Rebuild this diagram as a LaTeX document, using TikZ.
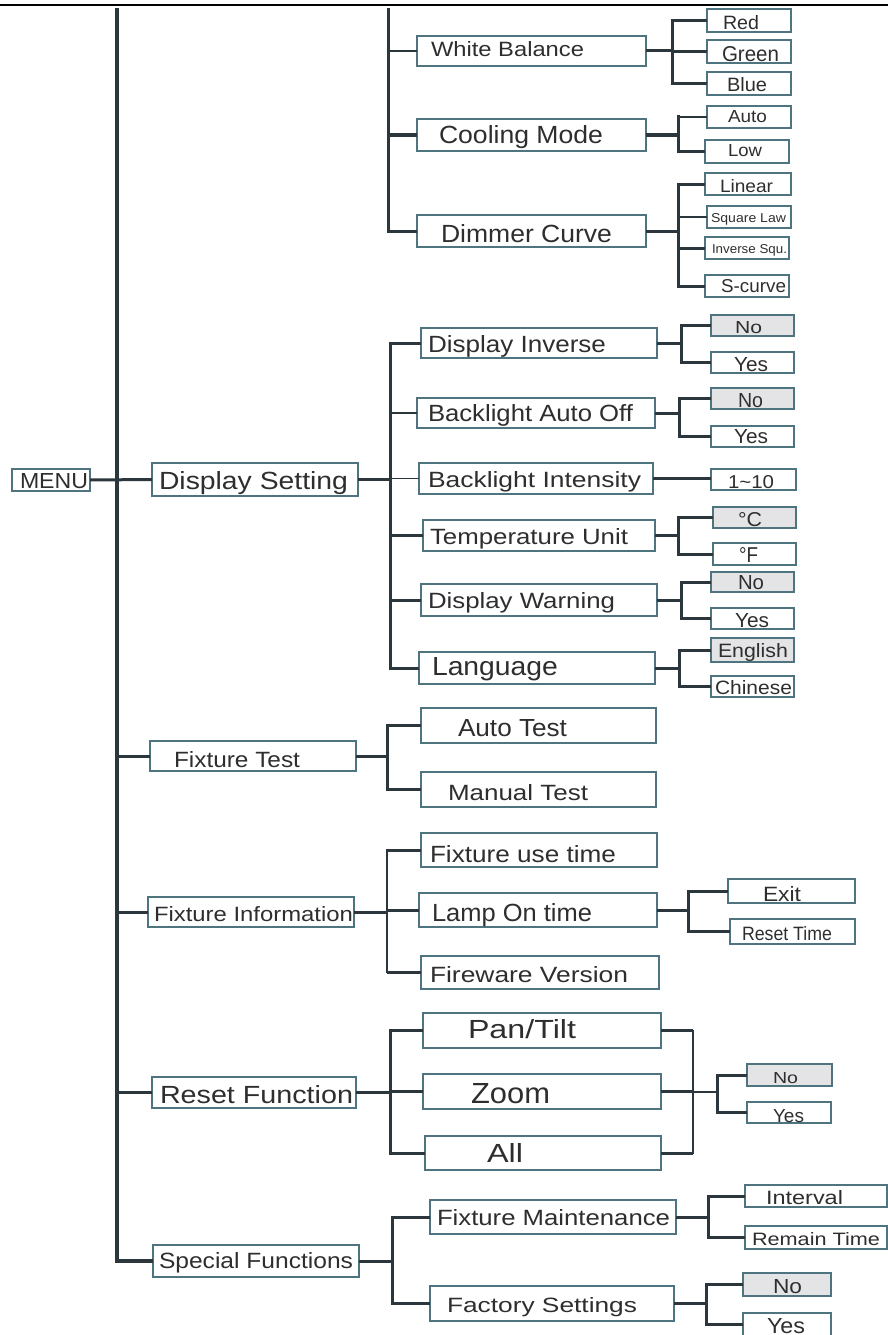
\documentclass[tikz,border=0pt]{standalone}
\usepackage{fontspec}
\setmainfont{Liberation Sans}
\usepackage{graphicx}
\definecolor{ln}{HTML}{2B373C}
\definecolor{bd}{HTML}{4E7480}
\definecolor{tc}{HTML}{2E2E2E}
\definecolor{sh}{HTML}{E4E4E6}
\newcommand\bx[6][]{\node[box,#1,minimum width={#5-#3},minimum height={#6-#4}] (#2) at ({(#3+#5)/2},{(#4+#6)/2}) {};}
\newcommand\tx[6]{\node[txt] (#1) at (#2,#3) {\resizebox{#4pt}{#5pt}{#6}};}
\begin{document}
\begin{tikzpicture}[x=1pt,y=-1pt,
  box/.style={draw=bd,line width=1.3pt,inner sep=0pt,outer sep=0pt,rectangle},
  shd/.style={fill=sh},
  txt/.style={anchor=base west,inner sep=0pt,outer sep=0pt,text=tc},
  thk/.style={draw=ln,line width=3pt},
  thn/.style={draw=ln,line width=1.6pt},
  vthk/.style={draw=ln,line width=3pt,line cap=rect},
  vthn/.style={draw=ln,line width=1.6pt,line cap=rect},
  mainl/.style={draw=ln,line width=3.5pt}]
\useasboundingbox (0,0) rectangle (888,1335);
\clip (0,0) rectangle (888,1335);
% top rule
\coordinate (tl) at (0,5);
\coordinate (tr) at (888,5);
\draw[line width=2.8pt,black] (tl) -- (tr);

% ---------- boxes ----------
\bx{menu}{12}{469}{90}{491}
\bx{ds}{152}{463}{358}{496}
\bx{wb}{417}{36}{646}{66}
\bx{cm}{417}{119}{646}{151}
\bx{dc}{417}{215}{646}{247}
\bx{red}{707}{9}{791}{32}
\bx{green}{707}{40}{791}{63}
\bx{blue}{707}{72}{791}{95}
\bx{auto}{707}{106}{791}{128}
\bx{low}{705}{140}{789}{163}
\bx{lin}{705}{173}{791}{195}
\bx{sq}{707}{206}{791}{228}
\bx{isq}{705}{237}{789}{259}
\bx{sc}{705}{275}{789}{297}
\bx{di}{421}{328}{657}{358}
\bx{bao}{417}{398}{655}{428}
\bx{bi}{419}{463}{653}{494}
\bx{tu}{423}{520}{655}{551}
\bx{dw}{421}{584}{657}{616}
\bx{lang}{419}{652}{655}{684}
\bx[shd]{dino}{711}{315}{794}{336}
\bx{diyes}{711}{352}{794}{373}
\bx[shd]{baono}{711}{388}{794}{409}
\bx{baoyes}{711}{426}{794}{447}
\bx{bival}{711}{469}{796}{490}
\bx[shd]{tuc}{713}{507}{796}{528}
\bx{tuf}{713}{543}{796}{565}
\bx[shd]{dwno}{711}{572}{794}{592}
\bx{dwyes}{711}{608}{794}{629}
\bx[shd]{eng}{711}{638}{794}{662}
\bx{chn}{711}{676}{794}{697}
\bx{ft}{150}{741}{356}{771}
\bx{at}{421}{708}{656}{743}
\bx{mt}{421}{772}{656}{807}
\bx{fi}{148}{897}{354}{927}
\bx{fut}{421}{833}{657}{867}
\bx{lot}{419}{893}{657}{927}
\bx{fv}{421}{956}{659}{989}
\bx{exit}{728}{879}{855}{903}
\bx{rt}{730}{919}{855}{944}
\bx{rf}{152}{1077}{356}{1108}
\bx{pt}{423}{1013}{661}{1048}
\bx{zm}{423}{1074}{661}{1109}
\bx{all}{425}{1136}{661}{1170}
\bx[shd]{rno}{747}{1064}{832}{1086}
\bx{ryes}{747}{1102}{831}{1123}
\bx{sf}{153}{1245}{359}{1277}
\bx{fm}{430}{1200}{676}{1234}
\bx{fs}{430}{1286}{674}{1321}
\bx{intv}{745}{1185}{887}{1207}
\bx{rmt}{745}{1226}{887}{1249}
\bx[shd]{fno}{743}{1273}{831}{1296}
\bx{fyes}{743}{1313}{831}{1336}

% ---------- texts ----------
\tx{menu-t}{20}{488}{68}{15}{MENU}
\tx{ds-t}{159}{489}{189}{18}{Display Setting}
\tx{wb-t}{431}{57}{153}{15}{White Balance}
\tx{cm-t}{439}{144}{164}{18}{Cooling Mode}
\tx{dc-t}{441}{242}{171}{18}{Dimmer Curve}
\tx{red-t}{723}{30}{36}{14}{Red}
\tx{green-t}{722}{62}{57}{15}{Green}
\tx{blue-t}{727}{92}{40}{14}{Blue}
\tx{auto-t}{728}{123}{39}{12}{Auto}
\tx{low-t}{728}{157}{34}{12}{Low}
\tx{lin-t}{720}{192}{53}{13}{Linear}
\tx{sq-t}{711}{222}{75}{9}{Square Law}
\tx{isq-t}{712}{253}{75}{9}{Inverse Squ.}
\tx{sc-t}{721}{292}{65}{13}{S-curve}
\tx{di-t}{428}{352}{178}{17}{Display Inverse}
\tx{bao-t}{428}{421}{205}{17}{Backlight Auto Off}
\tx{bi-t}{428}{487}{213}{16}{Backlight Intensity}
\tx{tu-t}{430}{544}{198}{16}{Temperature Unit}
\tx{dw-t}{428}{608}{187}{16}{Display Warning}
\tx{lang-t}{432}{675}{126}{18}{Language}
\tx{dino-t}{735}{333}{27}{12}{No}
\tx{diyes-t}{734}{371}{34}{14}{Yes}
\tx{baono-t}{738}{407}{25}{14}{No}
\tx{baoyes-t}{734}{443}{34}{14}{Yes}
\tx{bival-t}{728}{488}{46}{13}{1\char"007E 10}
\tx{tuc-t}{738}{526}{24}{14}{°C}
\tx{tuf-t}{739}{562}{19}{15}{°F}
\tx{dwno-t}{738}{589}{26}{14}{No}
\tx{dwyes-t}{735}{627}{34}{14}{Yes}
\tx{eng-t}{718}{657}{70}{14}{English}
\tx{chn-t}{715}{694}{77}{14}{Chinese}
\tx{ft-t}{174}{767}{126}{16}{Fixture Test}
\tx{at-t}{458}{736}{109}{17}{Auto Test}
\tx{mt-t}{448}{800}{140}{16}{Manual Test}
\tx{fi-t}{154}{921}{199}{15}{Fixture Information}
\tx{fut-t}{430}{862}{186}{17}{Fixture use time}
\tx{lot-t}{432}{921}{160}{18}{Lamp On time}
\tx{fv-t}{430}{982}{198}{16}{Fireware Version}
\tx{exit-t}{763}{901}{38}{15}{Exit}
\tx{rt-t}{742}{940}{90}{14}{Reset Time}
\tx{rf-t}{160}{1103}{193}{18}{Reset Function}
\tx{pt-t}{468}{1038}{108}{19}{Pan/Tilt}
\tx{zm-t}{471}{1103}{79}{20}{Zoom}
\tx{all-t}{487}{1162}{36}{19}{All}
\tx{rno-t}{773}{1083}{25}{11}{No}
\tx{ryes-t}{773}{1122}{31}{13}{Yes}
\tx{sf-t}{159}{1268}{194}{16}{Special Functions}
\tx{fm-t}{437}{1225}{233}{16}{Fixture Maintenance}
\tx{fs-t}{447}{1312}{190}{15}{Factory Settings}
\tx{intv-t}{766}{1204}{77}{14}{Interval}
\tx{rmt-t}{752}{1245}{128}{13}{Remain Time}
\tx{fno-t}{773}{1293}{29}{14}{No}
\tx{fyes-t}{767}{1333}{38}{15}{Yes}

% ---------- junction coordinates ----------
\coordinate (m0) at (117,8.5);
\coordinate (s0) at (388,8.5);
\coordinate (jwb) at (672,0);
\coordinate (jcm) at (678,0);
\coordinate (jdc) at (678,0);
\coordinate (jds) at (390,0);
\coordinate (jdi) at (681,0);
\coordinate (jbao) at (679,0);
\coordinate (jtu) at (678,0);
\coordinate (jdw) at (681,0);
\coordinate (jlang) at (679,0);
\coordinate (jft) at (387,0);
\coordinate (jfi) at (387,0);
\coordinate (jlot) at (688,0);
\coordinate (jrf) at (390,0);
\coordinate (jr) at (693,1092);
\coordinate (jrk) at (717,1092);
\coordinate (jsf) at (392,0);
\coordinate (jfm) at (708,0);
\coordinate (jfs) at (706,0);

% ---------- main trunk ----------
\draw[mainl] (m0) |- (sf.west);
\draw[thk] (menu.east) -- (ds.west);
\draw[thk] (m0 |- ft.west) -- (ft.west);
\draw[thk] (m0 |- fi.west) -- (fi.west);
\draw[thk] (m0 |- rf.west) -- (rf.west);

% ---------- upper trunk ----------
\draw[thk] (s0) |- (dc.west);
\draw[thn] (s0 |- wb.west) -- (wb.west);
\draw[thk] (s0 |- cm.west) -- (cm.west);

% white balance
\draw[thk] (wb.east) -- (jwb |- wb.east);
\draw[vthk] (jwb |- red.west) -- (jwb |- blue.west);
\draw[thk] (jwb |- red.west) -- (red.west);
\draw[thk] (jwb |- green.west) -- (green.west);
\draw[thk] (jwb |- blue.west) -- (blue.west);
% cooling mode
\draw[thk] (cm.east) -- (jcm |- cm.east);
\draw[vthk] (jcm |- auto.west) -- (jcm |- low.west);
\draw[thn] (jcm |- auto.west) -- (auto.west);
\draw[thk] (jcm |- low.west) -- (low.west);
% dimmer curve
\draw[thk] (dc.east) -- (jdc |- dc.east);
\draw[vthk] (jdc |- lin.west) -- (jdc |- sc.west);
\draw[thk] (jdc |- lin.west) -- (lin.west);
\draw[thn] (jdc |- sq.west) -- (sq.west);
\draw[thk] (jdc |- isq.west) -- (isq.west);
\draw[thk] (jdc |- sc.west) -- (sc.west);

% ---------- display setting ----------
\draw[thk] (ds.east) -- (jds |- ds.east);
\draw[vthk] (jds |- di.west) -- (jds |- lang.west);
\draw[thk] (jds |- di.west) -- (di.west);
\draw[thn] (jds |- bao.west) -- (bao.west);
\draw[thn] (jds |- bi.west) -- (bi.west);
\draw[thk] (jds |- tu.west) -- (tu.west);
\draw[thk] (jds |- dw.west) -- (dw.west);
\draw[thk] (jds |- lang.west) -- (lang.west);

\draw[thk] (di.east) -- (jdi |- di.east);
\draw[vthk] (jdi |- dino.west) -- (jdi |- diyes.west);
\draw[thk] (jdi |- dino.west) -- (dino.west);
\draw[thk] (jdi |- diyes.west) -- (diyes.west);

\draw[thk] (bao.east) -- (jbao |- bao.east);
\draw[vthk] (jbao |- baono.west) -- (jbao |- baoyes.west);
\draw[thk] (jbao |- baono.west) -- (baono.west);
\draw[thk] (jbao |- baoyes.west) -- (baoyes.west);

\draw[thk,line width=2.4pt] (bi.east) -- (bi.east -| bival.west);

\draw[thk] (tu.east) -- (jtu |- tu.east);
\draw[vthk] (jtu |- tuc.west) -- (jtu |- tuf.west);
\draw[thk] (jtu |- tuc.west) -- (tuc.west);
\draw[thk] (jtu |- tuf.west) -- (tuf.west);

\draw[thk] (dw.east) -- (jdw |- dw.east);
\draw[vthk] (jdw |- dwno.west) -- (jdw |- dwyes.west);
\draw[thk] (jdw |- dwno.west) -- (dwno.west);
\draw[thk] (jdw |- dwyes.west) -- (dwyes.west);

\draw[thk] (lang.east) -- (jlang |- lang.east);
\draw[vthk] (jlang |- eng.west) -- (jlang |- chn.west);
\draw[thk] (jlang |- eng.west) -- (eng.west);
\draw[thk] (jlang |- chn.west) -- (chn.west);

% ---------- fixture test ----------
\draw[thk] (ft.east) -- (jft |- ft.east);
\draw[vthk] (jft |- at.west) -- (jft |- mt.west);
\draw[thk] (jft |- at.west) -- (at.west);
\draw[thk] (jft |- mt.west) -- (mt.west);

% ---------- fixture information ----------
\draw[thk] (fi.east) -- (jfi |- fi.east);
\draw[vthn] (jfi |- fut.west) -- (jfi |- fv.west);
\draw[thk] (jfi |- fut.west) -- (fut.west);
\draw[thk] (jfi |- lot.west) -- (lot.west);
\draw[thk] (jfi |- fv.west) -- (fv.west);

\draw[thk] (lot.east) -- (jlot |- lot.east);
\draw[vthk] (jlot |- exit.west) -- (jlot |- rt.west);
\draw[thk] (jlot |- exit.west) -- (exit.west);
\draw[thk] (jlot |- rt.west) -- (rt.west);

% ---------- reset function ----------
\draw[thk] (rf.east) -- (jrf |- rf.east);
\draw[vthk] (jrf |- pt.west) -- (jrf |- all.west);
\draw[thk] (jrf |- pt.west) -- (pt.west);
\draw[thk] (jrf |- zm.west) -- (zm.west);
\draw[thk] (jrf |- all.west) -- (all.west);

\draw[thk] (pt.east) -- (jr |- pt.east);
\draw[thk] (zm.east) -- (jr |- zm.east);
\draw[thk] (all.east) -- (jr |- all.east);
\draw[vthn] (jr |- pt.east) -- (jr |- all.east);
\draw[thn] (jr) -- (jrk);
\draw[vthk] (jrk |- rno.west) -- (jrk |- ryes.west);
\draw[thk] (jrk |- rno.west) -- (rno.west);
\draw[thk] (jrk |- ryes.west) -- (ryes.west);

% ---------- special functions ----------
\draw[thk] (sf.east) -- (jsf |- sf.east);
\draw[vthk] (jsf |- fm.west) -- (jsf |- fs.west);
\draw[thk] (jsf |- fm.west) -- (fm.west);
\draw[thk] (jsf |- fs.west) -- (fs.west);

\draw[thk] (fm.east) -- (jfm |- fm.east);
\draw[vthk] (jfm |- intv.west) -- (jfm |- rmt.west);
\draw[thk] (jfm |- intv.west) -- (intv.west);
\draw[thk] (jfm |- rmt.west) -- (rmt.west);

\draw[thk] (fs.east) -- (jfs |- fs.east);
\draw[vthk] (jfs |- fno.west) -- (jfs |- fyes.west);
\draw[thk] (jfs |- fno.west) -- (fno.west);
\draw[thk] (jfs |- fyes.west) -- (fyes.west);
\end{tikzpicture}
\end{document}
